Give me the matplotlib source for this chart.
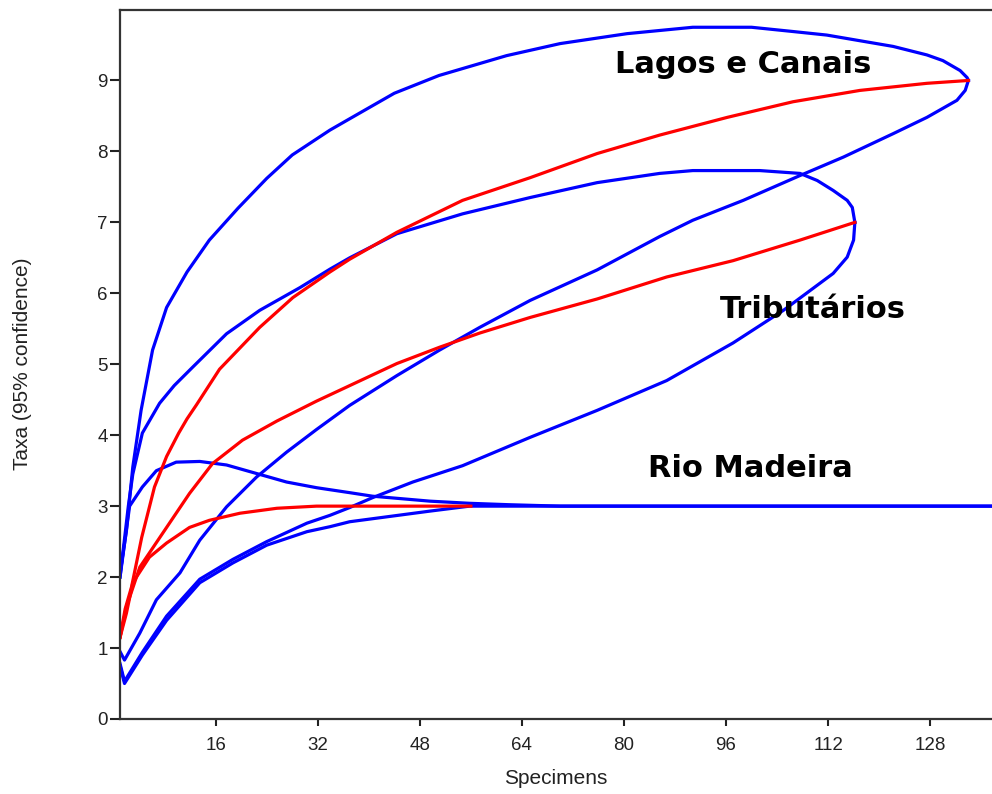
"""Rarefaction curves with 95% confidence bands for three sampling areas."""

import matplotlib

matplotlib.use("Agg")
import matplotlib.pyplot as plt

# Lagos e Canais
lagos_x = [1, 1.8, 2.8, 4.4, 6.4, 8.3, 10.2, 11.5, 13, 16.6, 22.9, 28.1, 33.9, 37, 44.4,
           54.7, 65.3, 75.8, 85.6, 96.2, 106.5, 117, 127.5, 134]
lagos_y = [1.15, 1.55, 1.86, 2.56, 3.27, 3.7, 4.03, 4.23, 4.43, 4.93, 5.52, 5.94, 6.3, 6.48, 6.86,
           7.31, 7.63, 7.97, 8.23, 8.48, 8.7, 8.86, 8.96, 9.0]
lagos_hi_x = [1, 2, 3, 4.3, 6.1, 8.3, 11.5, 15, 19.5, 24, 28, 33.9, 37, 44, 51, 61.6, 70, 80.5,
              90.8, 100, 106.5, 111.8, 117, 122.2, 127.5, 130, 132.7, 133.8, 134]
lagos_hi_y = [2.05, 2.65, 3.55, 4.35, 5.2, 5.8, 6.3, 6.75, 7.2, 7.62, 7.95, 8.3, 8.46, 8.82, 9.07,
              9.35, 9.52, 9.66, 9.75, 9.75, 9.69, 9.64, 9.56, 9.48, 9.36, 9.28, 9.14, 9.04, 9.0]
lagos_lo_x = [1, 1.7, 4.1, 6.7, 10.4, 13.5, 17.7, 22.4, 27.1, 31.8, 37, 44.4, 51.1, 57.4,
              65.3, 75.8, 85.6, 90.8, 98.7, 107.6, 114.4, 122.2, 127.5, 132.2, 133.5, 134]
lagos_lo_y = [0.95, 0.83, 1.21, 1.68, 2.06, 2.52, 2.99, 3.41, 3.76, 4.08, 4.42, 4.84, 5.2, 5.52,
              5.9, 6.33, 6.8, 7.03, 7.31, 7.66, 7.92, 8.25, 8.48, 8.72, 8.86, 9.0]

# Tributários
trib_x = [1, 2, 4.1, 8.3, 11.9, 15.5, 20.2, 25.6, 31.8, 44.4, 51.1, 57.4, 65.3, 75.8,
          86.7, 97.1, 107.6, 116.2]
trib_y = [1.15, 1.58, 2.14, 2.7, 3.18, 3.6, 3.93, 4.2, 4.48, 5.01, 5.24, 5.44, 5.66, 5.92,
          6.23, 6.46, 6.75, 7.0]
trib_hi_x = [1, 2.3, 3, 4.5, 7.2, 9.5, 12.4, 17.7, 22.9, 29.2, 33.9, 37, 44.4, 54.7, 65.3, 75.8,
             85.6, 90.8, 101.3, 107.6, 110.3, 112.8, 115, 115.8, 116.2]
trib_hi_y = [2.0, 3.0, 3.45, 4.03, 4.45, 4.7, 4.96, 5.43, 5.76, 6.08, 6.34, 6.5, 6.84, 7.12, 7.35, 7.56,
             7.69, 7.73, 7.73, 7.69, 7.59, 7.45, 7.31, 7.21, 7.0]
trib_lo_x = [1, 1.7, 4.5, 8.3, 13.5, 18.7, 24, 30.3, 33.9, 37, 40.6, 46.9, 54.7, 65.3, 75.8,
             86.7, 97.1, 105, 112.8, 115, 116, 116.2]
trib_lo_y = [0.78, 0.53, 0.94, 1.45, 1.97, 2.25, 2.5, 2.76, 2.87, 2.98, 3.12, 3.34, 3.57, 3.97, 4.35,
             4.77, 5.3, 5.76, 6.28, 6.51, 6.75, 7.0]

# Rio Madeira
madeira_x = [1, 2, 3, 5.6, 8.3, 11.9, 15, 19.8, 25.6, 31.8, 40, 48, 56]
madeira_y = [1.15, 1.49, 1.92, 2.28, 2.48, 2.7, 2.8, 2.9, 2.97, 3.0, 3.0, 3.0, 3.0]
madeira_hi_x = [1, 2.5, 4.5, 6.7, 9.8, 13.5, 17.7, 22.4, 27.1, 31.8, 37, 40.6, 49.6, 55.8, 62, 70, 140]
madeira_hi_y = [2.0, 3.0, 3.27, 3.5, 3.62, 3.63, 3.58, 3.46, 3.34, 3.26, 3.19, 3.14, 3.07, 3.04, 3.02,
                3.0, 3.0]
madeira_lo_x = [1, 1.7, 4.5, 8.3, 13.5, 18.7, 24, 30.3, 33.9, 37, 49.6, 55.8, 140]
madeira_lo_y = [0.75, 0.5, 0.9, 1.39, 1.92, 2.2, 2.45, 2.64, 2.71, 2.78, 2.93, 3.0, 3.0]

x_ticks = [16, 32, 48, 64, 80, 96, 112, 128]
y_ticks = [0, 1, 2, 3, 4, 5, 6, 7, 8, 9]

BLUE = "#0000ff"
RED = "#ff0000"
LW = 2.3

fig = plt.figure(figsize=(9.92, 7.94), dpi=100)
ax = fig.add_axes([0.121, 0.0945, 0.879, 0.8935])

for bx, by in [(lagos_hi_x, lagos_hi_y), (lagos_lo_x, lagos_lo_y),
               (trib_hi_x, trib_hi_y), (trib_lo_x, trib_lo_y),
               (madeira_hi_x, madeira_hi_y), (madeira_lo_x, madeira_lo_y)]:
    ax.plot(bx, by, color=BLUE, linewidth=LW, solid_joinstyle="round")

for rx, ry in [(lagos_x, lagos_y), (trib_x, trib_y), (madeira_x, madeira_y)]:
    ax.plot(rx, ry, color=RED, linewidth=LW, solid_joinstyle="round")

label_style = dict(fontsize=22, fontweight="bold", family="DejaVu Sans", color="black",
                   ha="left", va="baseline")
ax.text(78.6, 9.1, "Lagos e Canais", **label_style)
ax.text(95.1, 5.65, "Tributários", **label_style)
ax.text(83.8, 3.41, "Rio Madeira", **label_style)

ax.set_xlim(1, 137.7)
ax.set_ylim(0, 10)
ax.set_xticks(x_ticks)
ax.set_yticks(y_ticks)

tick_font = "Liberation Sans"
ax.tick_params(axis="x", length=5, width=1.5, pad=8, labelsize=13.5, color="#222222")
ax.tick_params(axis="y", length=7, width=1.5, pad=2, labelsize=13.5, color="#222222")
for lab in ax.get_xticklabels() + ax.get_yticklabels():
    lab.set_family(tick_font)
    lab.set_color("#222222")

for side in ["left", "top", "bottom"]:
    ax.spines[side].set_linewidth(1.6)
    ax.spines[side].set_color("#333333")
ax.spines["right"].set_visible(False)

ax.set_xlabel("Specimens", family=tick_font, fontsize=15, labelpad=11, color="#222222")
ax.set_ylabel("Taxa (95% confidence)", family=tick_font, fontsize=15, labelpad=47, color="#222222")

fig.savefig("out.png", dpi=100)
